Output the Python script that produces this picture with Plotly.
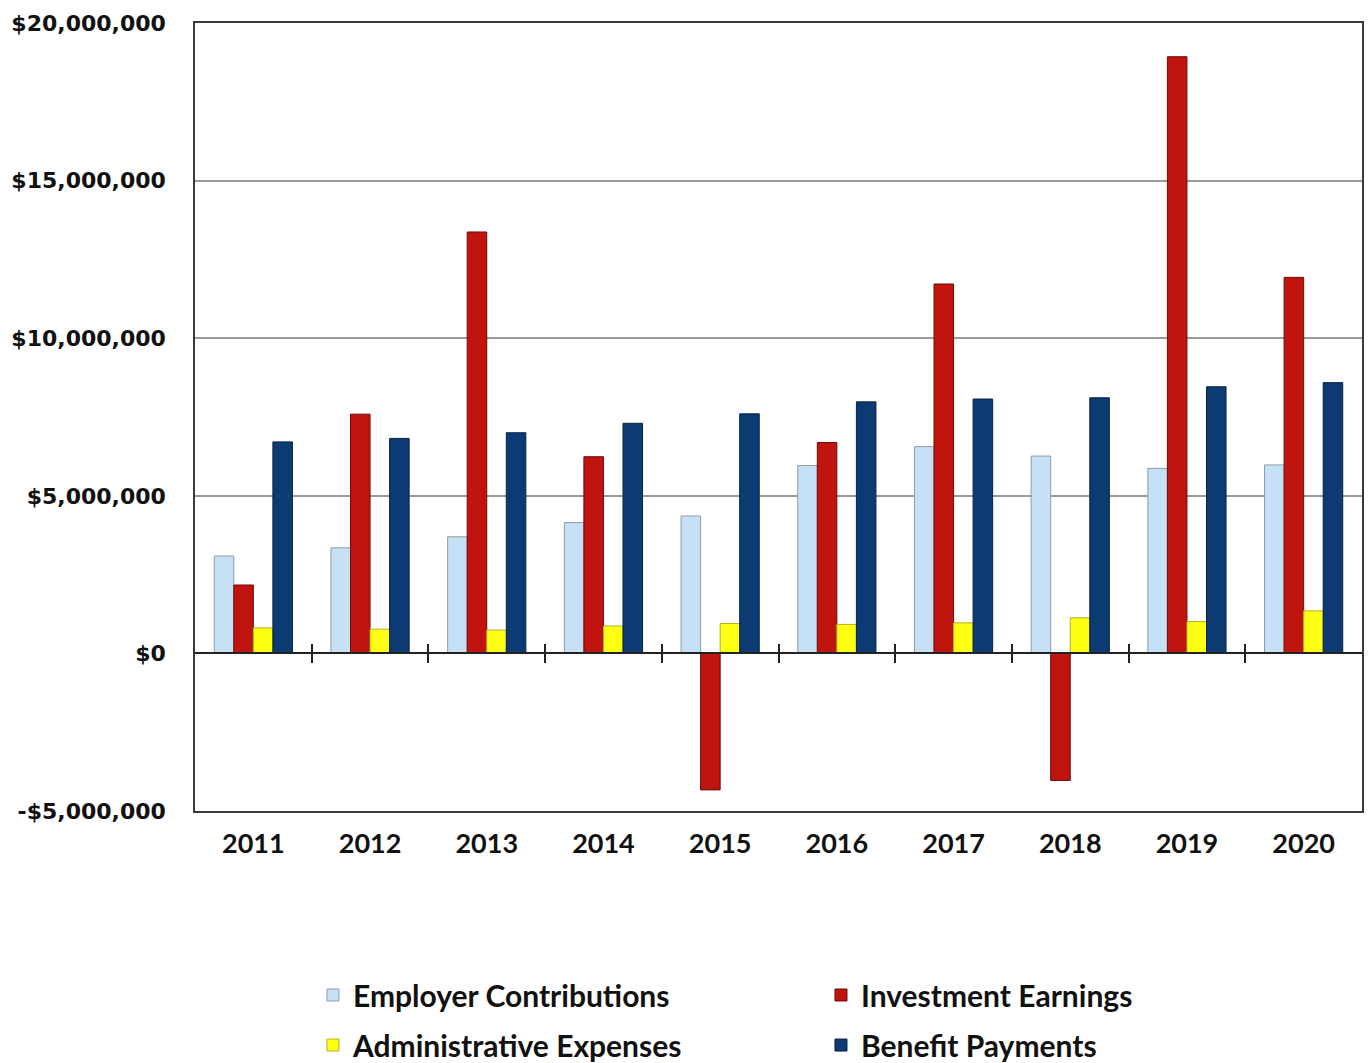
import plotly.graph_objects as go

# Annual plan cash flows, 2011-2020 (US dollars)
years = ["2011", "2012", "2013", "2014", "2015", "2016", "2017", "2018", "2019", "2020"]
employer_contributions = [3090000, 3350000, 3700000, 4150000, 4360000, 5960000, 6560000, 6260000, 5870000, 5980000]
investment_earnings = [2170000, 7590000, 13370000, 6240000, -4330000, 6690000, 11720000, -4030000, 18930000, 11930000]
administrative_expenses = [810000, 770000, 740000, 870000, 950000, 920000, 970000, 1130000, 1010000, 1350000]
benefit_payments = [6710000, 6820000, 7000000, 7300000, 7600000, 7980000, 8070000, 8110000, 8460000, 8590000]

y_ticks = [-5000000, 0, 5000000, 10000000, 15000000, 20000000]
y_tick_text = ["-$5,000,000", "$0", "$5,000,000", "$10,000,000", "$15,000,000", "$20,000,000"]

# name, values, fill, outline, legend row
series = [
    ("Employer Contributions", employer_contributions, "#C6E0F5", "#8E9BA8", "legend"),
    ("Investment Earnings", investment_earnings, "#C0140E", "#6E0B08", "legend"),
    ("Administrative Expenses", administrative_expenses, "#FFFF14", "#B9AE2A", "legend2"),
    ("Benefit Payments", benefit_payments, "#0C3A72", "#08213F", "legend2"),
]

fig = go.Figure()
for name, values, fill, edge, legend_id in series:
    fig.add_trace(go.Bar(
        x=years, y=values, name=name, legend=legend_id,
        marker=dict(color=fill, line=dict(color=edge, width=1)),
    ))

# empty traces so the zero-line tick axes get drawn
for axis_id in ("x2", "x3"):
    fig.add_trace(go.Scatter(x=[None], y=[None], xaxis=axis_id, yaxis="y",
                             showlegend=False, hoverinfo="skip", mode="markers"))

legend_font = dict(family="Lato", size=30, color="#111111", weight="bold")
boundary_ticks = [0.5, 1.5, 2.5, 3.5, 4.5, 5.5, 6.5, 7.5, 8.5]

fig.update_layout(
    width=1371, height=1063,
    margin=dict(l=195, r=9, t=23, b=252, autoexpand=False),
    paper_bgcolor="white", plot_bgcolor="white",
    barmode="group", bargap=0.33, bargroupgap=0,
    showlegend=True,
    legend=dict(
        orientation="h", x=0.1011, xanchor="left", y=-0.2335, yanchor="middle",
        entrywidth=463, entrywidthmode="pixels", font=legend_font,
        bgcolor="rgba(0,0,0,0)",
    ),
    legend2=dict(
        orientation="h", x=0.1011, xanchor="left", y=-0.297, yanchor="middle",
        entrywidth=463, entrywidthmode="pixels", font=legend_font,
        bgcolor="rgba(0,0,0,0)",
    ),
    xaxis=dict(
        type="category", showline=True, linecolor="#3a3a3a", linewidth=1.5, mirror=True,
        ticks="", showgrid=False, ticklabelstandoff=8, automargin=False,
        tickfont=dict(family="Lato", size=27, color="#111111", weight="bold"),
    ),
    yaxis=dict(
        range=[-5000000, 20000000], tickvals=y_ticks, ticktext=y_tick_text,
        showline=True, linecolor="#3a3a3a", linewidth=1.5, mirror=True,
        showgrid=True, gridcolor="#9a9a9a", gridwidth=1.5, zeroline=False,
        ticks="", ticklabelstandoff=23, automargin=False,
        tickfont=dict(family="DejaVu Sans", size=22, color="#111111", weight="bold"),
    ),
    # zero line with category-boundary tick marks crossing it on both sides
    xaxis2=dict(
        overlaying="x", anchor="free", position=0.2, range=[-0.5, 9.5],
        showline=True, linecolor="#222222", linewidth=1.5, showgrid=False, zeroline=False,
        tickvals=boundary_ticks, showticklabels=False, automargin=False,
        ticks="outside", ticklen=9, tickwidth=1.5, tickcolor="#222222",
    ),
    xaxis3=dict(
        overlaying="x", anchor="free", position=0.2, range=[-0.5, 9.5],
        showline=False, showgrid=False, zeroline=False, automargin=False,
        tickvals=boundary_ticks, showticklabels=False,
        ticks="inside", ticklen=9, tickwidth=1.5, tickcolor="#222222",
    ),
)

fig.write_html("out.html")
